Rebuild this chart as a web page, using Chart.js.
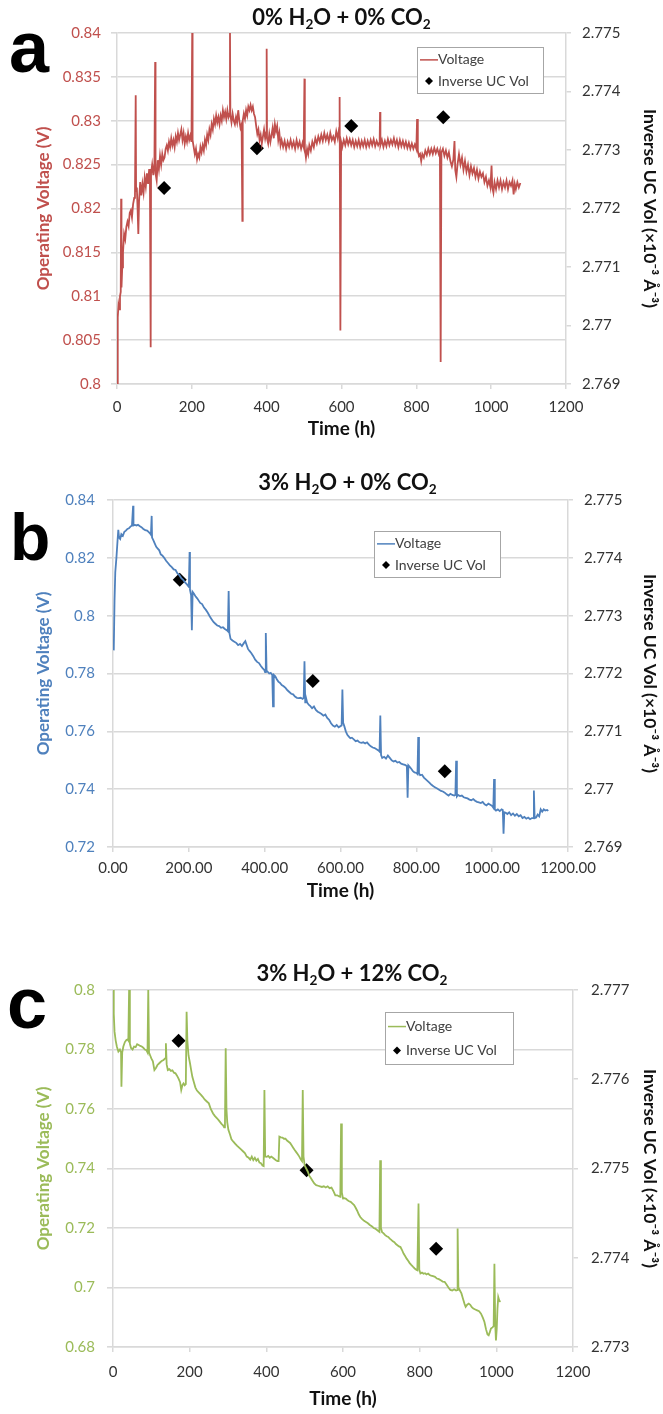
<!DOCTYPE html>
<html>
<head>
<meta charset="utf-8">
<script src="https://cdn.jsdelivr.net/npm/chart.js@4.4.1/dist/chart.umd.min.js"></script>
<style>
  body { margin: 0; background: #fff; }
  #page { position: relative; width: 663px; height: 1414px; font-family: Lato, "Open Sans", sans-serif; }
  canvas { position: absolute; left: 0; }
  .title { position: absolute; text-align: center; font-weight: bold; font-size: 22px; line-height: 24px; color: #111; white-space: nowrap; }
  .title sub { font-size: 0.62em; vertical-align: -0.3em; line-height: 0; }
  .letter { position: absolute; font-family: "Liberation Sans", Arial, sans-serif; font-weight: bold; color: #000; line-height: 1; }
</style>
</head>
<body>
<div id="page">
  <canvas id="chartA" width="663" height="445" style="top:0px"></canvas>
  <canvas id="chartB" width="663" height="465" style="top:445px"></canvas>
  <canvas id="chartC" width="663" height="504" style="top:910px"></canvas>

  <div class="title" style="left:117px;width:449px;top:5px">0% H<sub>2</sub>O + 0% CO<sub>2</sub></div>
  <div class="title" style="left:120px;width:455px;top:470px">3% H<sub>2</sub>O + 0% CO<sub>2</sub></div>
  <div class="title" style="left:122px;width:460px;top:961px">3% H<sub>2</sub>O + 12% CO<sub>2</sub></div>

  <div class="letter" style="left:9px;top:11px;font-size:72px">a</div>
  <div class="letter" style="left:10px;top:504px;font-size:66px">b</div>
  <div class="letter" style="left:7px;top:967px;font-size:72px">c</div>
</div>

<script>
// ---- data ----
// panel a: 0% H2O + 0% CO2  [time (h), voltage (V)]
const voltA = [
  [0,0.800],[2,0.8076],[4,0.8090],[6,0.8085],[8,0.8100],[10,0.8105],[11,0.8211],[12,0.8110],[14,0.8133],[16,0.8150],
  [19,0.8171],[22,0.8165],[25,0.8179],[28,0.8185],[31,0.8180],[34,0.8195],[37,0.8198],[40,0.8190],[43,0.8205],[46,0.8212],
  [48,0.8213],[50,0.8329],[51,0.8220],[53,0.8224],[55,0.8200],[57,0.8171],[59,0.8209],[62,0.8230],[65,0.8215],[68,0.8228],
  [71,0.8218],[74,0.8235],[77,0.8225],[80,0.8240],[83,0.8228],[86,0.8245],[88,0.8232],[90,0.8042],[91,0.8240],[94,0.8250],
  [97,0.8238],[100,0.8252],[102,0.8367],[103,0.8240],[106,0.8232],[109,0.8255],[112,0.8245],[115,0.8260],[118,0.8250],[121,0.8262],
  [124,0.8255],[127,0.8258],[130,0.8268],[133,0.8272],[136,0.8266],[139,0.8276],[142,0.8270],[145,0.8280],[148,0.8272],[151,0.8278],
  [154,0.8270],[157,0.8282],[160,0.8276],[163,0.8286],[166,0.8278],[169,0.8284],[172,0.8290],[175,0.8278],[178,0.8286],[181,0.8274],
  [184,0.8282],[187,0.8276],[190,0.8286],[193,0.8278],[196,0.8283],[199,0.8276],[201,0.8400],[202,0.8278],[205,0.8270],[208,0.8262],
  [211,0.8268],[214,0.8256],[217,0.8262],[220,0.8258],[223,0.8270],[226,0.8264],[229,0.8272],[232,0.8266],[235,0.8278],[238,0.8272],
  [241,0.8284],[244,0.8278],[247,0.8290],[250,0.8284],[253,0.8296],[256,0.8290],[259,0.8302],[262,0.8296],[265,0.8306],[268,0.8298],
  [271,0.8304],[274,0.8296],[277,0.8306],[280,0.8300],[283,0.8312],[286,0.8304],[289,0.8310],[292,0.8302],[295,0.8312],[298,0.8304],
  [301,0.8308],[302,0.8400],[303,0.8306],[306,0.8298],[309,0.8308],[312,0.8300],[315,0.8296],[318,0.8304],[321,0.8298],[324,0.8312],
  [327,0.8300],[330,0.8292],[333,0.8296],[335,0.8186],[336,0.8300],[339,0.8308],[342,0.8302],[345,0.8312],[348,0.8306],[351,0.8316],
  [354,0.8312],[357,0.8318],[360,0.8312],[363,0.8316],[366,0.8308],[369,0.8304],[372,0.8294],[375,0.8285],[378,0.8290],[381,0.8278],
  [384,0.8284],[387,0.8274],[390,0.8282],[393,0.8290],[396,0.8280],[399,0.8287],[400,0.8382],[401,0.8280],[404,0.8274],[407,0.8285],
  [410,0.8276],[413,0.8284],[416,0.8292],[419,0.8280],[422,0.8296],[425,0.8288],[428,0.8294],[431,0.8278],[434,0.8286],[437,0.8272],
  [440,0.8278],[444,0.8270],[448,0.8277],[452,0.8268],[456,0.8276],[460,0.8270],[464,0.8278],[468,0.8270],[472,0.8276],[476,0.8268],
  [480,0.8278],[484,0.8270],[488,0.8276],[492,0.8268],[496,0.8275],[499,0.8270],[501,0.8348],[502,0.8268],[505,0.8258],[508,0.8268],
  [511,0.8262],[514,0.8272],[518,0.8266],[522,0.8276],[526,0.8270],[530,0.8280],[534,0.8274],[538,0.8282],[542,0.8276],[546,0.8284],
  [550,0.8277],[554,0.8286],[558,0.8278],[562,0.8284],[566,0.8276],[570,0.8286],[574,0.8278],[578,0.8282],[582,0.8276],[586,0.8288],
  [590,0.8280],[594,0.8292],[595,0.8327],[597,0.8061],[599,0.8276],[602,0.8270],[606,0.8278],[610,0.8272],[614,0.8280],[618,0.8273],
  [622,0.8279],[626,0.8272],[630,0.8278],[634,0.8270],[638,0.8277],[642,0.8271],[646,0.8278],[650,0.8270],[654,0.8277],[658,0.8271],
  [662,0.8278],[666,0.8270],[670,0.8277],[674,0.8271],[678,0.8278],[682,0.8272],[686,0.8279],[690,0.8271],[694,0.8277],[698,0.8272],
  [702,0.8276],[703,0.8310],[704,0.8272],[708,0.8278],[712,0.8270],[716,0.8277],[720,0.8271],[724,0.8279],[728,0.8272],[732,0.8278],
  [736,0.8273],[740,0.8280],[744,0.8272],[748,0.8278],[752,0.8270],[756,0.8278],[760,0.8271],[764,0.8277],[768,0.8270],[772,0.8276],
  [776,0.8269],[780,0.8275],[784,0.8268],[788,0.8274],[792,0.8268],[796,0.8273],[800,0.8268],[802,0.8302],[804,0.8266],[807,0.8260],
  [810,0.8262],[813,0.8254],[816,0.8262],[820,0.8258],[824,0.8266],[828,0.8261],[832,0.8268],[836,0.8262],[840,0.8268],[844,0.8262],
  [848,0.8269],[852,0.8263],[856,0.8268],[860,0.8262],[863,0.8266],[865,0.8025],[867,0.8264],[871,0.8268],[875,0.8260],[879,0.8266],
  [883,0.8258],[887,0.8264],[891,0.8254],[895,0.8248],[899,0.8256],[902,0.8277],[904,0.8244],[907,0.8236],[910,0.8250],[914,0.8262],
  [918,0.8250],[922,0.8258],[926,0.8244],[930,0.8254],[934,0.8242],[938,0.8250],[942,0.8238],[946,0.8248],[950,0.8240],[954,0.8246],
  [958,0.8236],[962,0.8244],[966,0.8234],[970,0.8242],[974,0.8236],[978,0.8240],[982,0.8230],[986,0.8236],[990,0.8226],[994,0.8232],
  [998,0.8224],[1001,0.8249],[1003,0.8224],[1006,0.8218],[1009,0.8230],[1013,0.8222],[1017,0.8232],[1021,0.8224],[1025,0.8232],[1029,0.8222],
  [1033,0.8230],[1037,0.8224],[1041,0.8232],[1045,0.8222],[1049,0.8230],[1053,0.8226],[1057,0.8232],[1060,0.8216],[1063,0.8228],[1066,0.8222],
  [1070,0.8230],[1074,0.8224],[1078,0.8229]
];
const ucTimeA = [126, 374, 626, 872];
const ucVolA = [2.77235, 2.77303, 2.77341, 2.77356];

// panel b: 3% H2O + 0% CO2
const voltB = [
  [2,0.7880],[4,0.8050],[6,0.8150],[9,0.8200],[12,0.8260],[14,0.8297],[16,0.8270],[19,0.8265],[22,0.8282],[26,0.8276],
  [30,0.8290],[34,0.8294],[38,0.8300],[42,0.8302],[46,0.8308],[50,0.8312],[53,0.8380],[54,0.8312],[58,0.8314],[62,0.8312],
  [66,0.8314],[70,0.8310],[75,0.8306],[80,0.8300],[85,0.8296],[90,0.8294],[95,0.8288],[98,0.8284],[100,0.8280],[102,0.8345],
  [103,0.8270],[106,0.8262],[110,0.8250],[114,0.8238],[118,0.8232],[122,0.8226],[126,0.8212],[130,0.8208],[135,0.8200],[140,0.8190],
  [145,0.8182],[150,0.8174],[155,0.8168],[160,0.8160],[165,0.8158],[170,0.8146],[175,0.8140],[180,0.8130],[185,0.8124],[190,0.8115],
  [195,0.8108],[198,0.8103],[200,0.8100],[202,0.8220],[203,0.8090],[206,0.8070],[208,0.7950],[210,0.8082],[214,0.8075],[218,0.8066],
  [222,0.8060],[226,0.8052],[230,0.8044],[235,0.8040],[240,0.8028],[245,0.8020],[250,0.8010],[255,0.7998],[260,0.7988],[265,0.7978],
  [270,0.7972],[275,0.7966],[280,0.7964],[285,0.7958],[290,0.7960],[295,0.7954],[300,0.7950],[303,0.7946],[305,0.8085],[307,0.7940],
  [310,0.7920],[315,0.7914],[320,0.7910],[325,0.7906],[330,0.7898],[335,0.7902],[340,0.7895],[345,0.7905],[349,0.7912],[352,0.7900],
  [356,0.7885],[360,0.7878],[365,0.7870],[370,0.7860],[375,0.7848],[380,0.7840],[385,0.7836],[390,0.7826],[395,0.7818],[399,0.7812],
  [401,0.7805],[403,0.7940],[405,0.7810],[408,0.7806],[412,0.7800],[416,0.7802],[420,0.7795],[422,0.7686],[424,0.7795],[428,0.7790],
  [432,0.7780],[436,0.7772],[440,0.7768],[445,0.7760],[450,0.7756],[455,0.7750],[460,0.7742],[465,0.7736],[470,0.7730],[475,0.7728],
  [480,0.7720],[485,0.7716],[490,0.7715],[495,0.7716],[500,0.7712],[503,0.7716],[505,0.7842],[507,0.7700],[509,0.7716],[512,0.7700],
  [516,0.7692],[520,0.7688],[525,0.7680],[530,0.7686],[535,0.7674],[540,0.7668],[545,0.7664],[550,0.7660],[555,0.7654],[560,0.7658],
  [565,0.7646],[570,0.7640],[575,0.7628],[580,0.7620],[585,0.7616],[590,0.7622],[595,0.7614],[600,0.7618],[603,0.7620],[605,0.7745],
  [607,0.7630],[610,0.7618],[614,0.7600],[618,0.7588],[622,0.7582],[626,0.7576],[630,0.7578],[635,0.7572],[640,0.7566],[645,0.7568],
  [650,0.7562],[655,0.7560],[660,0.7562],[665,0.7558],[670,0.7562],[675,0.7554],[680,0.7548],[685,0.7544],[690,0.7542],[695,0.7538],
  [700,0.7534],[703,0.7530],[705,0.7655],[707,0.7518],[710,0.7508],[715,0.7512],[720,0.7506],[725,0.7516],[730,0.7508],[735,0.7500],
  [740,0.7496],[745,0.7498],[750,0.7492],[755,0.7494],[760,0.7488],[765,0.7486],[770,0.7484],[775,0.7480],[777,0.7370],[779,0.7482],
  [783,0.7476],[787,0.7470],[791,0.7462],[795,0.7458],[800,0.7456],[803,0.7452],[805,0.7580],[807,0.7455],[810,0.7448],[815,0.7450],
  [820,0.7440],[825,0.7434],[830,0.7428],[835,0.7422],[840,0.7415],[845,0.7410],[850,0.7406],[855,0.7402],[860,0.7398],[865,0.7394],
  [870,0.7392],[875,0.7388],[880,0.7382],[885,0.7378],[890,0.7384],[895,0.7380],[900,0.7378],[903,0.7380],[905,0.7498],[907,0.7375],
  [910,0.7380],[915,0.7376],[920,0.7378],[925,0.7372],[930,0.7370],[935,0.7368],[940,0.7364],[945,0.7362],[950,0.7366],[955,0.7360],
  [960,0.7356],[965,0.7354],[970,0.7352],[975,0.7356],[980,0.7348],[985,0.7344],[990,0.7350],[995,0.7346],[1000,0.7342],[1003,0.7336],
  [1005,0.7435],[1007,0.7330],[1010,0.7326],[1015,0.7330],[1020,0.7324],[1025,0.7330],[1028,0.7328],[1030,0.7246],[1032,0.7320],[1036,0.7318],
  [1040,0.7314],[1045,0.7320],[1050,0.7310],[1055,0.7316],[1060,0.7308],[1065,0.7314],[1070,0.7306],[1075,0.7310],[1080,0.7300],[1085,0.7304],
  [1090,0.7298],[1095,0.7302],[1100,0.7296],[1105,0.7300],[1108,0.7300],[1110,0.7395],[1112,0.7300],[1116,0.7302],[1120,0.7312],[1124,0.7306],
  [1128,0.7330],[1132,0.7322],[1136,0.7330],[1140,0.7326],[1145,0.7328],[1148,0.7325]
];
const ucTimeB = [176, 527, 875];
const ucVolB = [2.77362, 2.77187, 2.77031];

// panel c: 3% H2O + 12% CO2
const voltC = [
  [0,0.8000],[2,0.7920],[4,0.7860],[7,0.7830],[10,0.7810],[14,0.7793],[18,0.7800],[21,0.7790],[22,0.7675],[24,0.7790],
  [27,0.7810],[31,0.7825],[35,0.7832],[38,0.7834],[40,0.7830],[42,0.8000],[44,0.7820],[47,0.7805],[51,0.7800],[55,0.7810],
  [59,0.7808],[63,0.7818],[67,0.7815],[71,0.7812],[75,0.7810],[79,0.7806],[83,0.7800],[87,0.7798],[90,0.7790],[92,0.8000],
  [94,0.7790],[97,0.7780],[100,0.7770],[104,0.7760],[108,0.7731],[112,0.7738],[116,0.7748],[120,0.7753],[124,0.7758],[128,0.7762],
  [132,0.7765],[136,0.7770],[138,0.7821],[140,0.7750],[143,0.7731],[147,0.7734],[151,0.7728],[155,0.7730],[159,0.7722],[163,0.7720],
  [167,0.7712],[171,0.7702],[175,0.7690],[178,0.7664],[181,0.7680],[184,0.7686],[187,0.7680],[190,0.7684],[192,0.7927],[194,0.7830],
  [197,0.7780],[201,0.7753],[204,0.7730],[207,0.7708],[211,0.7690],[215,0.7672],[219,0.7662],[224,0.7655],[229,0.7648],[234,0.7641],
  [239,0.7632],[244,0.7626],[250,0.7619],[255,0.7600],[261,0.7585],[266,0.7576],[272,0.7568],[277,0.7560],[283,0.7550],[287,0.7545],
  [290,0.7538],[292,0.7540],[294,0.7804],[296,0.7600],[298,0.7556],[301,0.7530],[305,0.7515],[309,0.7498],[314,0.7490],[319,0.7483],
  [324,0.7476],[329,0.7470],[334,0.7464],[339,0.7458],[344,0.7452],[349,0.7440],[354,0.7436],[358,0.7430],[362,0.7440],[366,0.7428],
  [370,0.7436],[374,0.7426],[378,0.7432],[382,0.7420],[386,0.7418],[390,0.7410],[393,0.7408],[395,0.7664],[397,0.7440],[401,0.7439],
  [405,0.7442],[409,0.7436],[413,0.7440],[417,0.7436],[421,0.7432],[425,0.7428],[429,0.7425],[432,0.7425],[434,0.7507],[438,0.7505],
  [442,0.7504],[446,0.7500],[450,0.7500],[454,0.7494],[458,0.7490],[462,0.7486],[466,0.7478],[470,0.7470],[474,0.7462],[478,0.7455],
  [482,0.7448],[486,0.7440],[490,0.7430],[493,0.7425],[495,0.7664],[497,0.7440],[500,0.7410],[504,0.7400],[508,0.7390],[512,0.7376],
  [516,0.7368],[520,0.7360],[525,0.7350],[530,0.7344],[535,0.7342],[540,0.7340],[545,0.7338],[550,0.7340],[555,0.7336],[560,0.7340],
  [565,0.7334],[570,0.7336],[575,0.7324],[580,0.7310],[585,0.7310],[590,0.7306],[593,0.7305],[595,0.7551],[597,0.7320],[600,0.7299],
  [604,0.7300],[608,0.7298],[612,0.7293],[616,0.7290],[620,0.7288],[625,0.7282],[629,0.7277],[633,0.7268],[637,0.7258],[641,0.7246],
  [645,0.7237],[650,0.7230],[655,0.7224],[660,0.7220],[665,0.7216],[670,0.7210],[675,0.7206],[680,0.7200],[684,0.7198],[688,0.7194],
  [692,0.7190],[695,0.7187],[697,0.7428],[699,0.7200],[702,0.7186],[706,0.7182],[710,0.7176],[714,0.7172],[718,0.7170],[722,0.7164],
  [726,0.7160],[730,0.7155],[734,0.7152],[738,0.7146],[742,0.7142],[746,0.7138],[750,0.7136],[754,0.7126],[758,0.7114],[762,0.7106],
  [766,0.7097],[770,0.7090],[774,0.7082],[778,0.7076],[783,0.7069],[787,0.7064],[791,0.7060],[794,0.7058],[797,0.7282],[799,0.7060],
  [802,0.7047],[806,0.7050],[810,0.7046],[814,0.7048],[818,0.7044],[822,0.7047],[826,0.7042],[830,0.7040],[835,0.7038],[840,0.7036],
  [845,0.7030],[850,0.7028],[855,0.7024],[860,0.7020],[865,0.7019],[870,0.7010],[875,0.7000],[880,0.6992],[885,0.6990],[890,0.6994],
  [895,0.6990],[898,0.6991],[899,0.7198],[901,0.7000],[905,0.6990],[909,0.6980],[913,0.6962],[917,0.6945],[920,0.6935],[924,0.6942],
  [928,0.6946],[932,0.6942],[936,0.6934],[940,0.6929],[945,0.6926],[950,0.6923],[955,0.6920],[960,0.6912],[965,0.6898],[969,0.6884],
  [973,0.6860],[977,0.6842],[980,0.6839],[983,0.6850],[986,0.6862],[990,0.6866],[993,0.6870],[995,0.7080],[997,0.6880],[999,0.6822],
  [1001,0.6860],[1003,0.6930],[1005,0.6968],[1008,0.6955],[1011,0.6952]
];
const ucTimeC = [171, 505, 843];
const ucVolC = [2.77643, 2.77498, 2.77410];

// axis ranges [min, max, step]
const timeRange = [0, 1200, 200];
const voltRangeA = [0.80, 0.84, 0.005];
const voltRangeB = [0.72, 0.84, 0.02];
const voltRangeC = [0.68, 0.80, 0.02];
const ucRangeA = [2.769, 2.775, 0.001];
const ucRangeB = [2.769, 2.775, 0.001];
const ucRangeC = [2.773, 2.777, 0.001];

const seriesLabels = ["Voltage", "Inverse UC Vol"];

// ---- drawing ----
const FONT = "Lato, 'Open Sans', sans-serif";
const GRID = "#d9d9d9";
const general = (v) => String(Number(v.toFixed(4)));

// legend box drawn inside the plot, like the Excel original
const legendBox = {
  id: "legendBox",
  afterDraw(chart, args, opts) {
    const { ctx } = chart;
    const { x, y, w, h } = opts;
    const ds = chart.data.datasets;
    ctx.save();
    ctx.fillStyle = "#fff";
    ctx.fillRect(x, y, w, h);
    ctx.strokeStyle = "#a6a6a6";
    ctx.lineWidth = 1;
    ctx.strokeRect(x + 0.5, y + 0.5, w, h);

    const y1 = y + h * 0.28;
    const y2 = y + h * 0.74;
    ctx.strokeStyle = ds[0].borderColor;
    ctx.lineWidth = 1.5;
    ctx.beginPath();
    ctx.moveTo(x + 3, y1);
    ctx.lineTo(x + 21, y1);
    ctx.stroke();

    ctx.fillStyle = "#000";
    ctx.beginPath();
    ctx.moveTo(x + 12, y2 - 4);
    ctx.lineTo(x + 16, y2);
    ctx.lineTo(x + 12, y2 + 4);
    ctx.lineTo(x + 8, y2);
    ctx.closePath();
    ctx.fill();

    ctx.font = "14px " + FONT;
    ctx.fillStyle = "#404040";
    ctx.textBaseline = "middle";
    ctx.fillText(ds[0].label, x + 21, y1);
    ctx.fillText(ds[1].label, x + 21, y2);
    ctx.restore();
  }
};

function panel(id, p) {
  const h = p.height;
  return new Chart(document.getElementById(id), {
    type: "line",
    data: {
      datasets: [
        {
          label: seriesLabels[0],
          data: p.volt.map(([x, y]) => ({ x, y })),
          yAxisID: "y",
          borderColor: p.color,
          borderWidth: 1.8,
          pointRadius: 0,
          tension: 0,
          fill: false,
        },
        {
          label: seriesLabels[1],
          data: p.ucTime.map((x, i) => ({ x, y: p.ucVol[i] })),
          yAxisID: "y2",
          showLine: false,
          pointStyle: "rectRot",
          pointRadius: 7,
          backgroundColor: "#000",
          borderColor: "#000",
          borderWidth: 0,
        },
      ],
    },
    options: {
      responsive: false,
      animation: false,
      layout: { padding: { top: p.top, left: 0, right: 0, bottom: 0 } },
      plugins: {
        legend: { display: false },
        tooltip: { enabled: false },
        legendBox: p.legend,
      },
      scales: {
        x: {
          type: "linear",
          min: timeRange[0],
          max: timeRange[1],
          afterFit: (s) => { s.height = h - p.bottom; },
          ticks: {
            stepSize: timeRange[2],
            padding: p.xPad,
            autoSkip: false,
            maxRotation: 0,
            color: "#333",
            font: { family: FONT, size: 15 },
            callback: (v) => (p.xFixed ? v.toFixed(2) : String(v)),
          },
          grid: { drawOnChartArea: false, tickLength: 5, color: GRID, lineWidth: 1.5 },
          border: { color: GRID, width: 1.5 },
          title: {
            display: true,
            text: "Time (h)",
            color: "#111",
            font: { family: FONT, size: 19, weight: "bold" },
            padding: { top: 0, bottom: p.tPad },
          },
        },
        y: {
          position: "left",
          min: p.vRange[0],
          max: p.vRange[1],
          afterFit: (s) => { s.width = p.left; },
          ticks: {
            stepSize: p.vRange[2],
            padding: p.yPad,
            autoSkip: false,
            color: p.color,
            font: { family: FONT, size: 15 },
            callback: general,
          },
          grid: { color: GRID, lineWidth: 1.6, tickLength: 6 },
          border: { color: GRID, width: 1.5 },
          title: {
            display: true,
            text: "Operating Voltage (V)",
            color: p.color,
            font: { family: FONT, size: 17, weight: "bold" },
            padding: { top: 33, bottom: 0 },
          },
        },
        y2: {
          position: "right",
          min: p.uRange[0],
          max: p.uRange[1],
          afterFit: (s) => { s.width = 663 - p.right; },
          ticks: {
            stepSize: p.uRange[2],
            padding: p.y2Pad,
            autoSkip: false,
            color: "#333",
            font: { family: FONT, size: 15 },
            callback: general,
          },
          grid: { drawOnChartArea: false, color: GRID, lineWidth: 1.5, tickLength: 5 },
          border: { color: GRID, width: 1.5 },
          title: {
            display: true,
            text: "Inverse UC Vol (×10⁻³ Å⁻³)",
            color: "#111",
            font: { family: FONT, size: 17.5, weight: "bold" },
            padding: { top: 3, bottom: 0 },
          },
        },
      },
    },
    plugins: [legendBox],
  });
}

panel("chartA", {
  volt: voltA, ucTime: ucTimeA, ucVol: ucVolA,
  vRange: voltRangeA, uRange: ucRangeA, color: "#c0504d",
  height: 445, top: 33, bottom: 384, left: 117, right: 566,
  xPad: 9, tPad: 5, yPad: 10, y2Pad: 11, xFixed: false,
  legend: { x: 417, y: 47, w: 126, h: 46 },
});

panel("chartB", {
  volt: voltB, ucTime: ucTimeB, ucVol: ucVolB,
  vRange: voltRangeB, uRange: ucRangeB, color: "#4f81bd",
  height: 465, top: 55, bottom: 402, left: 113, right: 568,
  xPad: 7, tPad: 8, yPad: 12, y2Pad: 11, xFixed: true,
  legend: { x: 374, y: 86, w: 126, h: 46 },
});

panel("chartC", {
  volt: voltC, ucTime: ucTimeC, ucVol: ucVolC,
  vRange: voltRangeC, uRange: ucRangeC, color: "#9bbb59",
  height: 504, top: 80, bottom: 437, left: 113, right: 573,
  xPad: 11, tPad: 4, yPad: 12, y2Pad: 13, xFixed: false,
  legend: { x: 385, y: 102, w: 128, h: 52 },
});
</script>
</body>
</html>
